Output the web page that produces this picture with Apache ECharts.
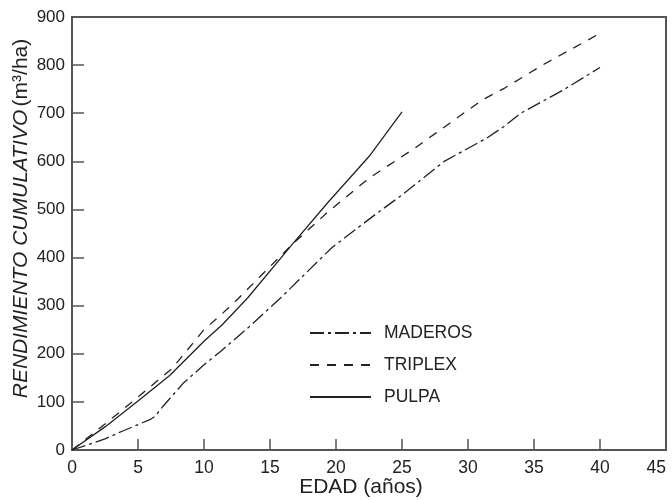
<!DOCTYPE html>
<html>
<head>
<meta charset="utf-8">
<script src="https://cdn.jsdelivr.net/npm/echarts@6/dist/echarts.min.js"></script>
<style>
  html, body { margin: 0; padding: 0; background: #fff; }
  #chart { width: 672px; height: 500px; }
</style>
</head>
<body>
<div id="chart"></div>
<script>
// values: [edad (años), rendimiento (m3/ha)]
const maderos = [
  [0, 0], [2.5, 23], [3.8, 39], [5.9, 63], [6.3, 70], [6.9, 91], [8.4, 138],
  [10, 177], [11.3, 206], [13.5, 258], [15.8, 316], [19.7, 421], [23, 490],
  [25, 530], [28.2, 600], [31.4, 648], [32.7, 672], [34, 700], [37.2, 748], [40, 795]
];
const triplex = [
  [0, 0], [2.5, 54], [5, 110], [7.6, 170], [10, 250], [11.4, 284], [12.6, 315],
  [16.7, 428], [19.4, 495], [22.5, 565], [26, 628], [31.1, 728], [32.7, 751],
  [35.7, 801], [40, 866]
];
const pulpa = [
  [0, 0], [2.5, 48], [5, 102], [7.4, 155], [10, 226], [11.4, 261], [13.3, 316],
  [16.7, 428], [19.4, 515], [22.5, 610], [25, 703]
];
const seriesNames = ["MADEROS", "TRIPLEX", "PULPA"];
const xTicks = { min: 0, max: 45, step: 5 };
const yTicks = { min: 0, max: 900, step: 100 };

const ink = "#222";
const frame = "#555";
const font = "Liberation Sans, Arial, sans-serif";

const chart = echarts.init(document.getElementById("chart"));

function lineSeries(name, data, type) {
  return {
    name, type: "line", data, symbol: "none", smooth: false,
    lineStyle: { color: ink, width: 1.3, type },
    itemStyle: { color: ink },
  };
}

chart.setOption({
  animation: false,
  textStyle: { fontFamily: font },
  grid: {
    left: 72, right: 6, top: 17, bottom: 50, outerBoundsMode: "none",
    show: true, borderColor: frame, borderWidth: 2,
  },
  legend: {
    data: seriesNames,
    orient: "vertical",
    left: 309, top: 324, padding: 0,
    itemWidth: 61, itemHeight: 16, itemGap: 14,
    itemStyle: { opacity: 0 },
    textStyle: { fontSize: 17.5, color: ink, fontFamily: font, padding: [0, 0, 0, 8] },
  },
  xAxis: {
    type: "value", min: xTicks.min, max: xTicks.max, interval: xTicks.step,
    name: "EDAD (años)", nameLocation: "middle", nameGap: 27, nameMoveOverlap: false,
    nameTextStyle: { fontSize: 21, color: ink, padding: [0, 16, 0, 0] },
    axisLine: { lineStyle: { color: frame, width: 2 } },
    axisTick: { inside: true, length: 11, lineStyle: { color: frame, width: 1.5 } },
    axisLabel: { fontSize: 17.5, color: ink, margin: 9, alignMaxLabel: "right" },
    splitLine: { show: false },
  },
  yAxis: {
    type: "value", min: yTicks.min, max: yTicks.max, interval: yTicks.step,
    name: "{i|RENDIMIENTO CUMULATIVO} {n|(m³/ha)}",
    nameLocation: "middle", nameGap: 40, nameMoveOverlap: false,
    nameTextStyle: {
      padding: [0, 0, 0, 30],
      rich: {
        i: { fontSize: 21, fontStyle: "italic", color: ink, fontFamily: font },
        n: { fontSize: 21, color: ink, fontFamily: font },
      },
    },
    axisLine: { lineStyle: { color: frame, width: 2 } },
    axisTick: { inside: true, length: 12, lineStyle: { color: frame, width: 1.5 } },
    axisLabel: { fontSize: 17, color: ink, margin: 7 },
    splitLine: { show: false },
  },
  series: [
    lineSeries("MADEROS", maderos, [14, 4, 3, 4]),
    lineSeries("TRIPLEX", triplex, [9, 8]),
    lineSeries("PULPA", pulpa, "solid"),
  ],
});
</script>
</body>
</html>
